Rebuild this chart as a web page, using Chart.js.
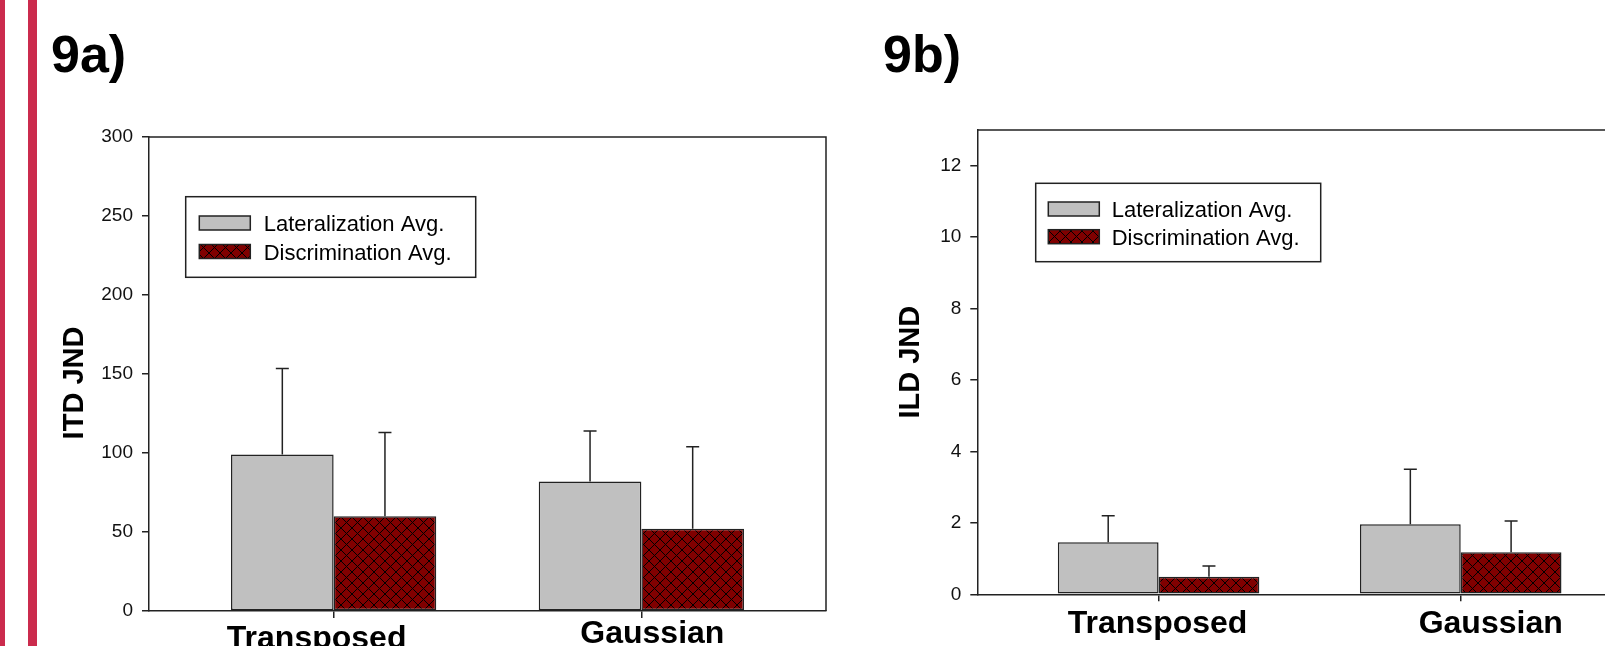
<!DOCTYPE html>
<html><head><meta charset="utf-8">
<script src="https://cdn.jsdelivr.net/npm/chart.js@4.4.1/dist/chart.umd.min.js"></script>
<style>
html,body{margin:0;padding:0;background:#fff;overflow:hidden;width:1605px;height:646px;position:relative}
.stripe{position:absolute;top:0;height:646px;background:#cb2b4d}
.panel{position:absolute;font-family:"Liberation Sans",Arial,sans-serif;font-weight:bold;font-size:52px;line-height:52px;color:#000;white-space:nowrap}
#wa{position:absolute;left:0;top:0;width:840px;height:646px}
#wb{position:absolute;left:840px;top:0;width:820px;height:646px}
canvas{display:block}
</style></head><body>
<div class="stripe" style="left:0;width:5px"></div>
<div class="stripe" style="left:28px;width:9px"></div>
<div class="panel" style="left:51px;top:28px">9a)</div>
<div class="panel" style="left:883px;top:28px">9b)</div>
<div id="wa"><canvas id="ca" width="840" height="646"></canvas></div>
<div id="wb"><canvas id="cb" width="820" height="646"></canvas></div>
<script>
// ---- data ----
const categories = ['Transposed', 'Gaussian'];
const seriesNames = ['Lateralization Avg.', 'Discrimination Avg.'];
const itdLateralization = [99, 82];
const itdLateralizationErr = [54.5, 32];
const itdDiscrimination = [60, 52];
const itdDiscriminationErr = [53, 52];
const ildLateralization = [1.46, 1.96];
const ildLateralizationErr = [0.74, 1.54];
const ildDiscrimination = [0.49, 1.18];
const ildDiscriminationErr = [0.30, 0.87];
const itdTicks = [0, 50, 100, 150, 200, 250, 300];
const ildTicks = [0, 2, 4, 6, 8, 10, 12];

const FONT = '"Liberation Sans", Arial, sans-serif';
const INK = '#222';

function hatchPattern() {
  const s = 11;
  const c = document.createElement('canvas');
  c.width = s; c.height = s;
  const g = c.getContext('2d');
  g.fillStyle = '#800000';
  g.fillRect(0, 0, s, s);
  g.strokeStyle = '#000';
  g.lineWidth = 1;
  g.beginPath();
  for (const k of [-s, 0, s]) {
    g.moveTo(-1, -1 + k); g.lineTo(s + 1, s + 1 + k);
    g.moveTo(-1, s + 1 + k); g.lineTo(s + 1, -1 + k);
  }
  g.stroke();
  return g.createPattern(c, 'repeat');
}

const errorBars = {
  id: 'errorBars',
  afterDatasetsDraw(chart, args, o) {
    const ctx = chart.ctx, ys = chart.scales.y;
    ctx.save();
    ctx.strokeStyle = INK; ctx.lineWidth = 1.5;
    chart.data.datasets.forEach((ds, di) => {
      const meta = chart.getDatasetMeta(di);
      meta.data.forEach((bar, i) => {
        const top = ys.getPixelForValue(ds.data[i].y + ds.errors[i]);
        ctx.beginPath();
        ctx.moveTo(bar.x, bar.y); ctx.lineTo(bar.x, top);
        ctx.moveTo(bar.x - o.cap / 2, top); ctx.lineTo(bar.x + o.cap / 2, top);
        ctx.stroke();
      });
    });
    ctx.restore();
  }
};

const frame = {
  id: 'frame',
  afterDraw(chart) {
    const {ctx, chartArea: a} = chart;
    ctx.save();
    ctx.strokeStyle = INK; ctx.lineWidth = 1.5;
    ctx.beginPath();
    ctx.moveTo(a.left, a.top); ctx.lineTo(a.right, a.top); ctx.lineTo(a.right, a.bottom);
    ctx.stroke();
    ctx.restore();
  }
};

const yTitle = {
  id: 'yTitle',
  afterDraw(chart, args, o) {
    const {ctx, chartArea: a} = chart, ys = chart.scales.y;
    ctx.save();
    ctx.translate(ys.left + o.size * 0.6, (a.top + a.bottom) / 2 + o.dy);
    ctx.rotate(-Math.PI / 2);
    ctx.fillStyle = '#000';
    ctx.font = 'bold ' + o.size + 'px ' + FONT;
    ctx.textAlign = 'center'; ctx.textBaseline = 'middle';
    ctx.fillText(o.text, 0, 0);
    ctx.restore();
  }
};

const boxLegend = {
  id: 'boxLegend',
  afterDraw(chart, args, o) {
    const {ctx, chartArea: a} = chart;
    const bx = a.left + o.x, by = a.top + o.y;
    ctx.save();
    ctx.fillStyle = '#fff'; ctx.fillRect(bx, by, o.w, o.h);
    ctx.strokeStyle = INK; ctx.lineWidth = 1.5; ctx.strokeRect(bx, by, o.w, o.h);
    chart.data.datasets.forEach((ds, i) => {
      const cy = by + o.rows[i];
      ctx.fillStyle = ds.backgroundColor;
      ctx.fillRect(bx + o.sx, cy - o.sh / 2, o.sw, o.sh);
      ctx.strokeStyle = INK; ctx.lineWidth = 1.5;
      ctx.strokeRect(bx + o.sx, cy - o.sh / 2, o.sw, o.sh);
      ctx.fillStyle = '#000';
      ctx.font = '22px ' + FONT;
      ctx.textAlign = 'left'; ctx.textBaseline = 'alphabetic';
      ctx.fillText(ds.label, bx + o.tx, cy + 8);
    });
    ctx.restore();
  }
};

const catLabels = {
  id: 'catLabels',
  afterDraw(chart, args, o) {
    const {ctx, chartArea: a} = chart, xs = chart.scales.x;
    ctx.save();
    ctx.fillStyle = '#000';
    ctx.font = 'bold 32px ' + FONT;
    ctx.textAlign = 'center'; ctx.textBaseline = 'alphabetic';
    categories.forEach((c, i) => {
      ctx.fillText(c, xs.getPixelForValue(i + 1) + o.dx[i], a.bottom + o.dy[i]);
    });
    ctx.restore();
  }
};

function makeChart(id, cfg) {
  const hatch = hatchPattern();
  return new Chart(document.getElementById(id), {
    type: 'bar',
    data: {
      datasets: [
        { label: seriesNames[0], data: categories.map((c, i) => ({x: i + 1, y: cfg.lat[i]})), errors: cfg.latErr,
          backgroundColor: '#c0c0c0', borderColor: INK, borderWidth: 1.5, borderSkipped: false },
        { label: seriesNames[1], data: categories.map((c, i) => ({x: i + 1, y: cfg.disc[i]})), errors: cfg.discErr,
          backgroundColor: hatch, borderColor: INK, borderWidth: 1.5, borderSkipped: false }
      ]
    },
    options: {
      responsive: false, animation: false, devicePixelRatio: 1,
      layout: { padding: cfg.padding },
      datasets: { bar: { categoryPercentage: 0.667, barPercentage: 1 } },
      plugins: {
        legend: { display: false }, tooltip: { enabled: false }, title: { display: false },
        errorBars: { cap: 13 },
        yTitle: cfg.yTitle,
        boxLegend: cfg.legend,
        catLabels: cfg.cat
      },
      scales: {
        x: {
          type: 'linear', min: 0.4, max: 2.6, offset: false,
          afterBuildTicks: s => { s.ticks = categories.map((c, i) => ({value: i + 1})); },
          afterFit: s => { s.height = cfg.xH; },
          grid: { offset: false, drawOnChartArea: false, drawTicks: true, tickLength: 7, color: INK, lineWidth: 1.5 },
          border: { display: true, color: INK, width: 1.5 },
          ticks: { display: false }
        },
        y: {
          type: 'linear', min: 0, max: cfg.max,
          afterBuildTicks: s => { s.ticks = cfg.ticks.map(v => ({value: v})); },
          afterFit: s => { s.width = cfg.yW; },
          grid: { drawOnChartArea: false, drawTicks: true, tickLength: 7, color: INK, lineWidth: 1.5 },
          border: { display: true, color: INK, width: 1.5 },
          ticks: { padding: 9, color: '#111', font: { family: FONT, size: 19 } },
          title: { display: false }
        }
      }
    },
    plugins: [errorBars, frame, boxLegend, catLabels, yTitle]
  });
}

makeChart('ca', {
  lat: itdLateralization, latErr: itdLateralizationErr,
  disc: itdDiscrimination, discErr: itdDiscriminationErr,
  max: 300, ticks: itdTicks,
  yTitle: { text: 'ITD JND', size: 29, dy: 9 },
  padding: { left: 58, top: 137, right: 14, bottom: 0 }, yW: 91, xH: 35,
  legend: { x: 36.7, y: 59.7, w: 290, h: 80.6, sx: 13.6, sw: 51, sh: 14, tx: 78, rows: [26.3, 54.8] },
  cat: { dx: [-17, 11], dy: [37, 32] }
});
makeChart('cb', {
  lat: ildLateralization, latErr: ildLateralizationErr,
  disc: ildDiscrimination, discErr: ildDiscriminationErr,
  max: 13, ticks: ildTicks,
  yTitle: { text: 'ILD JND', size: 29, dy: 0 },
  padding: { left: 53.6, top: 130, right: 18, bottom: 0 }, yW: 83.7, xH: 51.7,
  legend: { x: 58.4, y: 53.3, w: 285, h: 78.4, sx: 12.6, sw: 51, sh: 14, tx: 76, rows: [25.7, 53.4] },
  cat: { dx: [-1, 30], dy: [38.6, 38.4] }
});
</script>
</body></html>
